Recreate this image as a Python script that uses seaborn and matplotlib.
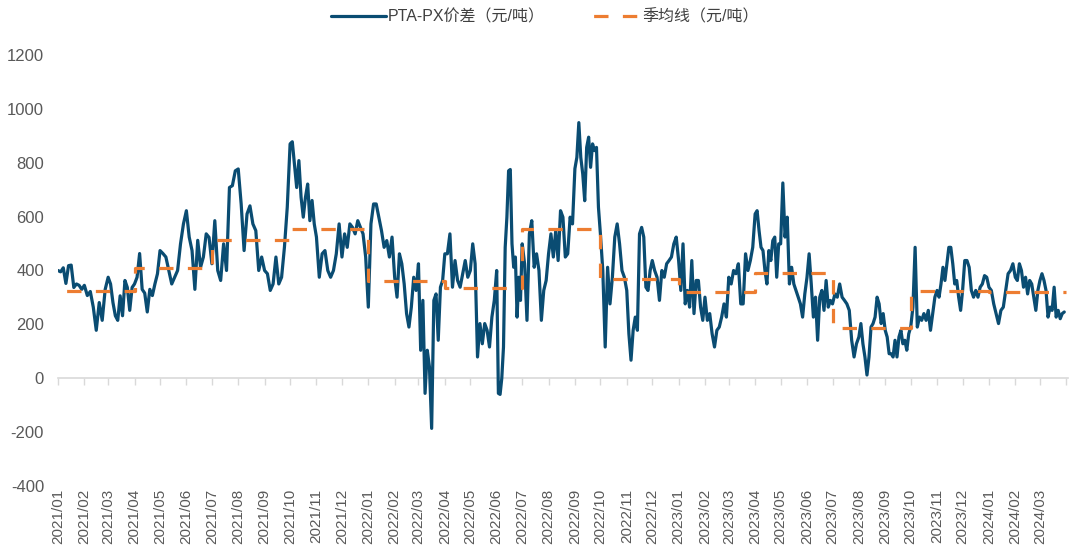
import matplotlib

matplotlib.use("Agg")

import matplotlib.pyplot as plt
import numpy as np
import pandas as pd
import seaborn as sns


BLUE = "#0A4C72"
ORANGE = "#ED7D31"
TEXT_GREY = "#595959"
AXIS_GREY = "#D9D9D9"

LINE_LABEL = "PTA-PX价差（元/吨）"
AVG_LABEL = "季均线（元/吨）"

# daily spread, one list per month, in time order
spread_2021 = [
    [400, 395, 410, 352, 418, 420, 337, 350, 345, 330],
    [345, 307, 322, 264, 178, 281, 215, 330],
    [375, 350, 281, 232, 215, 306, 232, 363, 337, 252, 337],
    [350, 375, 463, 330, 316, 246, 330, 307, 350, 388],
    [474, 463, 450, 400, 350, 375, 400, 499, 573],
    [622, 524, 474, 330, 512, 412, 450, 536, 523],
    [425, 585, 400, 363, 499, 400, 708, 715, 770],
    [777, 647, 474, 610, 640, 573, 548, 400, 450],
    [400, 388, 326, 350, 450, 350, 375, 486, 635],
    [870, 878, 795, 708, 808, 672, 598, 672, 721, 585, 660, 573],
    [524, 375, 462, 474, 400, 375, 400, 462, 573],
    [450, 536, 486, 573, 560, 536, 585, 560, 536, 450],
]
spread_2022 = [
    [264, 573, 647, 647, 598, 548, 486, 511, 450, 524],
    [375, 301, 462, 425, 350, 240, 190, 264, 375, 326],
    [425, 104, 289, -56, 104, 42, -186, 289, 313, 141, 338, 363],
    [462, 462, 536, 338, 437, 363, 338, 388, 437, 375],
    [400, 499, 425, 79, 203, 128, 203, 178, 116, 227, 289],
    [400, -56, -60, 0, 116, 486, 598, 770, 775, 499, 412, 450, 227, 375, 289],
    [499, 425, 215, 536, 585, 412, 462, 400, 215, 326, 363],
    [462, 536, 450, 548, 437, 622, 598, 450, 462, 598, 573],
    [778, 820, 949, 820, 758, 659, 857, 895, 783, 870, 845, 857, 635],
    [536, 400, 116, 412, 276, 375, 524, 573, 499, 400, 375],
    [326, 165, 67, 178, 227, 178, 536, 560, 524, 338, 326, 400],
    [437, 400, 375, 289, 400, 375, 425, 437, 450, 499, 524],
]
spread_2023 = [
    [437, 326, 499, 276, 326, 264, 437, 240, 363, 363, 264, 215],
    [301, 215, 240, 165, 116, 178, 190, 227, 276, 227],
    [375, 350, 400, 388, 425, 276, 276, 462, 400, 437, 486],
    [610, 622, 548, 486, 474, 400, 350, 474, 437, 511, 524, 375, 499],
    [499, 725, 524, 598, 350, 412, 350, 326, 301, 276, 227, 313],
    [375, 462, 350, 227, 301, 141, 301, 326, 252, 363, 264, 289],
    [276, 313, 301, 350, 301, 289, 276, 252, 141, 79, 128],
    [153, 203, 128, 79, 12, 79, 190, 203, 227, 301, 276, 203, 240],
    [178, 153, 91, 91, 79, 141, 79, 153, 178, 128, 141, 104, 165],
    [190, 264, 486, 190, 227, 215, 240, 215, 252, 178, 240, 301],
    [326, 301, 350, 412, 363, 425, 486, 486, 425, 350, 363, 301, 252],
    [326, 437, 437, 412, 326, 301, 326, 301, 338, 350, 381, 375],
]
spread_2024 = [
    [338, 326, 276, 240, 203, 252, 264, 326, 388, 400, 425],
    [375, 363, 425, 400, 338, 375, 313, 363, 350, 301, 252, 326],
    [363, 388, 363, 326, 227, 264, 252, 338, 227, 252, 221, 240, 246],
]

quarter_starts = [
    "2021-01-01", "2021-04-01", "2021-07-01", "2021-10-01",
    "2022-01-01", "2022-04-01", "2022-07-01", "2022-10-01",
    "2023-01-01", "2023-04-01", "2023-07-01", "2023-10-01",
    "2024-01-01",
]
quarter_means = [325, 410, 515, 555, 362, 335, 555, 370, 320, 392, 185, 325, 320]
series_end = "2024-04-01"


def build_spread_frame() -> pd.DataFrame:
    rows = []
    years = {2021: spread_2021, 2022: spread_2022, 2023: spread_2023, 2024: spread_2024}
    for year, months in years.items():
        for month, values in enumerate(months, start=1):
            start = pd.Timestamp(year, month, 1)
            span = (start + pd.offsets.MonthBegin(1)) - start
            for i, value in enumerate(values):
                rows.append({"date": start + span * i / len(values), "value": value})
    return pd.DataFrame(rows)


def build_quarter_frame() -> pd.DataFrame:
    dates = pd.to_datetime(quarter_starts + [series_end])
    values = quarter_means + [quarter_means[-1]]
    return pd.DataFrame({"date": dates, "value": values})


def main() -> None:
    sns.set_theme(style="white")
    plt.rcParams["font.family"] = ["Liberation Sans", "Noto Sans CJK SC", "DejaVu Sans"]
    plt.rcParams["axes.unicode_minus"] = False

    spread = build_spread_frame()
    quarters = build_quarter_frame()

    fig = plt.figure(figsize=(10.83, 5.58), dpi=100)
    ax = fig.add_axes([58 / 1083, 1 - 486 / 558, (1068 - 58) / 1083, (486 - 55) / 558])

    sns.lineplot(data=spread, x="date", y="value", color=BLUE, linewidth=2.3,
                 estimator=None, label=LINE_LABEL, ax=ax)
    sns.lineplot(data=quarters, x="date", y="value", color=ORANGE, linewidth=2.3,
                 estimator=None, linestyle=(6.3, (4.5, 4.5)), drawstyle="steps-post",
                 label=AVG_LABEL, ax=ax)

    ax.set_ylim(-400, 1200)
    ax.set_yticks(np.arange(-400, 1201, 200))
    ax.set_xlim(pd.Timestamp("2021-01-01"), pd.Timestamp("2024-04-03"))

    month_ticks = pd.date_range("2021-01-01", "2024-04-01", freq="MS")
    month_labels = [d.strftime("%Y/%m") for d in month_ticks[:-1]] + [""]
    ax.set_xticks(month_ticks)
    ax.set_xticklabels(month_labels)

    ax.set_xlabel("")
    ax.set_ylabel("")
    for spine in ax.spines.values():
        spine.set_visible(False)
    ax.grid(False)
    ax.tick_params(axis="y", length=0, pad=10, labelsize=12, labelcolor=TEXT_GREY)
    ax.tick_params(axis="x", length=0, pad=2, labelsize=11, labelcolor=TEXT_GREY,
                   labelrotation=90)

    # axis line at zero with month tick marks
    zero_axis = ax.secondary_xaxis(0.25)
    zero_axis.set_xticks(month_ticks)
    zero_axis.tick_params(axis="x", direction="out", length=5, width=1,
                          color=AXIS_GREY, labelbottom=False)
    zero_axis.spines["bottom"].set_color(AXIS_GREY)
    zero_axis.spines["bottom"].set_linewidth(1.2)

    handles, labels = ax.get_legend_handles_labels()
    ax.get_legend().remove()
    fig.legend(handles, labels, loc="center", bbox_to_anchor=(0.503, 1 - 17 / 558),
               ncol=2, frameon=False, fontsize=11.5, handlelength=3.45,
               handletextpad=0.15, columnspacing=2.5, labelcolor="#404040")

    fig.savefig("out.png", dpi=100)
    plt.close(fig)


if __name__ == "__main__":
    main()
